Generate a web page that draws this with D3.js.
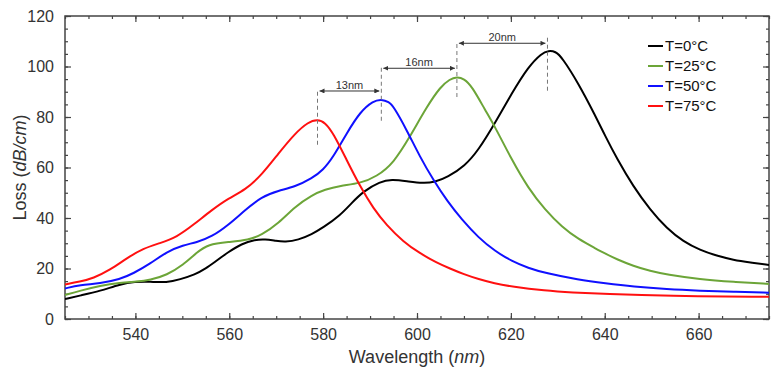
<!DOCTYPE html>
<html>
<head>
<meta charset="utf-8">
<script src="https://cdn.jsdelivr.net/npm/d3@7"></script>
<style>
  html, body { margin: 0; padding: 0; background: #fff; }
  svg { display: block; font-family: "Liberation Sans", Arial, sans-serif; }
</style>
</head>
<body>
<svg id="chart" width="778" height="369"></svg>
<script>
// ---------- data ----------
const xTicks = [540, 560, 580, 600, 620, 640, 660];
const yTicks = [0, 20, 40, 60, 80, 100, 120];
const seriesNames = ["T=0\u00B0C", "T=25\u00B0C", "T=50\u00B0C", "T=75\u00B0C"];

const wl0 = [525, 528.2, 532.5, 536.7, 539.9, 543.1, 546.7, 549.5, 552.7, 555, 557, 559.8, 562.6, 565.5, 567.6, 570, 571.9, 574.7, 577.6, 580, 583.6, 586, 588.6, 592.1, 594.6, 597.8, 601.3, 603.8, 606.5, 610.2, 613.1, 616.6, 620.2, 623.7, 626.6, 628, 629.5, 630.9, 634.4, 638, 640.1, 642.6, 646.1, 649.7, 653.2, 656.8, 660.3, 663.9, 667.4, 671, 675];
const loss0 = [7.9, 9.3, 11.1, 13.7, 14.8, 14.8, 14.4, 15.7, 17.6, 20.0, 22.7, 26.5, 29.8, 31.4, 31.6, 30.9, 30.5, 31.3, 33.6, 36.2, 41.0, 45.8, 50.6, 54.4, 55.3, 54.6, 53.7, 54.2, 56.2, 60.6, 66.9, 77.5, 89.4, 99.9, 105.3, 106.3, 106.0, 103.6, 93.3, 80.5, 72.5, 63.5, 52.4, 43.2, 35.9, 30.6, 27.3, 25.0, 23.4, 22.4, 21.4];

const wl25 = [525, 528.2, 532.5, 536.7, 540.3, 543.1, 546.7, 550.2, 553.1, 555.5, 559.8, 564.1, 566.9, 570.5, 574, 577.6, 580.4, 583.6, 587.9, 591.4, 595, 598.5, 602.1, 605, 607, 608.5, 610, 611.7, 614.5, 616.6, 620.2, 623.7, 627.3, 630.9, 634.4, 638, 640.1, 642.6, 646.1, 649.7, 653.2, 660.3, 667.4, 675];
const loss25 = [9.5, 11.2, 13.2, 14.4, 14.8, 15.4, 17.4, 21.4, 26.4, 29.6, 30.5, 31.3, 33.3, 37.9, 44.5, 49.1, 51.3, 52.8, 53.7, 56.4, 61.7, 72.2, 84.1, 92.0, 95.0, 95.9, 95.2, 92.2, 82.8, 76.2, 63.0, 51.8, 43.2, 36.4, 31.6, 28.0, 25.9, 23.6, 21.0, 19.0, 17.6, 15.7, 14.7, 13.9];

const wl50 = [525, 528.2, 532.5, 536.7, 539.6, 543.1, 546.7, 550.2, 553, 556.3, 559.8, 563.4, 566.9, 570.5, 574, 577.6, 580, 582.2, 585, 587.9, 590.7, 592.4, 594, 595, 597.8, 600.6, 603.5, 606.5, 609.5, 613.1, 616.6, 620.2, 623.7, 627.3, 634.4, 640.1, 646.1, 653.2, 660.3, 667.4, 675];
const loss50 = [12.1, 13.5, 14.1, 15.7, 18.1, 21.8, 26.7, 29.3, 30.3, 32.6, 37.2, 43.2, 48.4, 50.8, 52.4, 55.7, 59.0, 64.3, 73.5, 82.1, 86.4, 87.0, 86.0, 84.2, 74.9, 64.3, 55.0, 46.5, 39.5, 32.2, 26.9, 22.9, 20.2, 18.2, 15.5, 14.1, 12.8, 11.8, 11.2, 10.8, 10.4];

const wl75 = [525, 528.2, 531, 534.6, 538.1, 541.7, 545.2, 548.8, 552.5, 556.3, 559.8, 563.4, 566.9, 570.5, 574, 576.8, 578.8, 580.4, 582.2, 585, 587.9, 590.7, 593.5, 597.1, 600.6, 604.2, 607, 610, 613.1, 616.5, 620.2, 627.3, 633, 640.1, 653.2, 675];
const loss75 = [13.7, 14.8, 16.1, 19.4, 24.0, 28.0, 30.0, 32.4, 37.5, 43.2, 47.8, 51.1, 57.0, 65.6, 73.5, 78.0, 79.1, 77.9, 73.5, 63.0, 52.4, 43.8, 37.2, 30.6, 26.0, 22.3, 20.0, 17.7, 15.8, 14.1, 12.8, 11.2, 10.5, 9.9, 9.1, 8.8];

// peak annotations
const peakWl = [578.8, 592.4, 608.5, 627.8];
const dashTop = [90.0, 99.5, 108.9, 111.4];
const dashBottom = [68.2, 78.1, 87.1, 90.0];
const shiftLabels = ["13nm", "16nm", "20nm"];
const shiftLevel = [90.3, 99.3, 109.2];

// ---------- layout ----------
const colors = ["#000000", "#6ca538", "#1010ff", "#ff1010"];
const margin = { left: 65, right: 9, top: 16, bottom: 50 };
const W = 778, H = 369;
const svg = d3.select("#chart");

const x = d3.scaleLinear().domain([525, 675]).range([margin.left, W - margin.right]);
const y = d3.scaleLinear().domain([0, 120]).range([H - margin.bottom, margin.top]);

const axisColor = "#444";
const textColor = "#333";

svg.append("defs").append("clipPath").attr("id", "clip")
  .append("rect").attr("x", x(525)).attr("y", y(120)).attr("width", x(675) - x(525)).attr("height", y(0) - y(120));

// minor ticks
const minorX = d3.range(525, 676, 5);
const minorY = d3.range(0, 121, 5);

function styleAxis(g) {
  g.select(".domain").remove();
  g.selectAll(".tick line").attr("stroke", axisColor).attr("stroke-width", 1.2);
  g.selectAll(".tick text").attr("fill", textColor).style("font-size", "16px").style("font-family", '"Liberation Sans", Arial, sans-serif');
}

// bottom
svg.append("g").attr("transform", `translate(0,${y(0)})`)
  .call(d3.axisBottom(x).tickValues(minorX).tickSize(-3).tickFormat(""))
  .call(styleAxis);
svg.append("g").attr("transform", `translate(0,${y(0)})`)
  .call(d3.axisBottom(x).tickValues(xTicks).tickSizeInner(-6).tickSizeOuter(0).tickPadding(10).tickFormat(d3.format("d")))
  .call(styleAxis)
  .call(g => g.selectAll(".tick text").attr("dy", "0.71em").attr("y", 10));
// top
svg.append("g").attr("transform", `translate(0,${y(120)})`)
  .call(d3.axisTop(x).tickValues(minorX).tickSize(-3).tickFormat(""))
  .call(styleAxis);
svg.append("g").attr("transform", `translate(0,${y(120)})`)
  .call(d3.axisTop(x).tickValues(xTicks).tickSize(-6).tickFormat(""))
  .call(styleAxis);
// left
svg.append("g").attr("transform", `translate(${x(525)},0)`)
  .call(d3.axisLeft(y).tickValues(minorY).tickSize(-3).tickFormat(""))
  .call(styleAxis);
svg.append("g").attr("transform", `translate(${x(525)},0)`)
  .call(d3.axisLeft(y).tickValues(yTicks).tickSizeInner(-6).tickSizeOuter(0).tickPadding(11).tickFormat(d3.format("d")))
  .call(styleAxis);
// right
svg.append("g").attr("transform", `translate(${x(675)},0)`)
  .call(d3.axisRight(y).tickValues(minorY).tickSize(-3).tickFormat(""))
  .call(styleAxis);
svg.append("g").attr("transform", `translate(${x(675)},0)`)
  .call(d3.axisRight(y).tickValues(yTicks).tickSize(-6).tickFormat(""))
  .call(styleAxis);

// frame
svg.append("rect")
  .attr("x", x(525)).attr("y", y(120))
  .attr("width", x(675) - x(525)).attr("height", y(0) - y(120))
  .attr("fill", "none").attr("stroke", axisColor).attr("stroke-width", 1.5);

// curves
const series = [
  { wl: wl0, loss: loss0 },
  { wl: wl25, loss: loss25 },
  { wl: wl50, loss: loss50 },
  { wl: wl75, loss: loss75 }
];
const line = d3.line().x(d => x(d[0])).y(d => y(d[1])).curve(d3.curveBasis);
const plot = svg.append("g").attr("clip-path", "url(#clip)");
series.forEach((s, i) => {
  const pts = s.wl.map((w, k) => [w, s.loss[k]]);
  plot.append("path").datum(pts)
    .attr("d", line)
    .attr("fill", "none")
    .attr("stroke", colors[i])
    .attr("stroke-width", 2);
});

// annotations
const annColor = "#333";
const defs = svg.select("defs");
["arrowEnd", "arrowStart"].forEach((id, k) => {
  defs.append("marker").attr("id", id)
    .attr("viewBox", "0 0 10 10").attr("refX", 10).attr("refY", 5)
    .attr("markerWidth", 5).attr("markerHeight", 5)
    .attr("markerUnits", "userSpaceOnUse")
    .attr("orient", k === 0 ? "auto" : "auto-start-reverse")
    .append("path").attr("d", "M0,0 L10,5 L0,10 Z").attr("fill", annColor);
});

peakWl.forEach((p, i) => {
  svg.append("line")
    .attr("x1", x(p)).attr("x2", x(p))
    .attr("y1", y(dashTop[i])).attr("y2", y(dashBottom[i]))
    .attr("stroke", "#777").attr("stroke-width", 1)
    .attr("stroke-dasharray", "4,3");
});
shiftLabels.forEach((lab, i) => {
  const x1 = x(peakWl[i]) + 2, x2 = x(peakWl[i + 1]) - 2;
  const yy = y(shiftLevel[i]);
  svg.append("line")
    .attr("x1", x1).attr("x2", x2).attr("y1", yy).attr("y2", yy)
    .attr("stroke", annColor).attr("stroke-width", 1)
    .attr("marker-start", "url(#arrowStart)")
    .attr("marker-end", "url(#arrowEnd)");
  svg.append("text")
    .attr("x", (x1 + x2) / 2).attr("y", yy - 2)
    .attr("text-anchor", "middle")
    .attr("fill", annColor)
    .style("font-size", "11px")
    .text(lab);
});

// legend
const legend = svg.append("g");
seriesNames.forEach((name, i) => {
  const ly = 46 + i * 20;
  legend.append("line").attr("x1", 648).attr("x2", 663).attr("y1", ly).attr("y2", ly)
    .attr("stroke", colors[i]).attr("stroke-width", 2);
  legend.append("text").attr("x", 665).attr("y", ly).attr("dy", "0.36em")
    .attr("fill", "#111").style("font-size", "15px").text(name);
});

// axis titles
svg.append("text")
  .attr("x", (x(525) + x(675)) / 2).attr("y", 363)
  .attr("text-anchor", "middle").attr("fill", textColor)
  .style("font-size", "18px")
  .call(t => {
    t.append("tspan").text("Wavelength (");
    t.append("tspan").style("font-style", "italic").text("nm");
    t.append("tspan").text(")");
  });
svg.append("text")
  .attr("transform", `translate(26,${(y(0) + y(120)) / 2}) rotate(-90)`)
  .attr("text-anchor", "middle").attr("fill", textColor)
  .style("font-size", "18px")
  .call(t => {
    t.append("tspan").text("Loss (");
    t.append("tspan").style("font-style", "italic").text("dB/cm");
    t.append("tspan").text(")");
  });
</script>
</body>
</html>
